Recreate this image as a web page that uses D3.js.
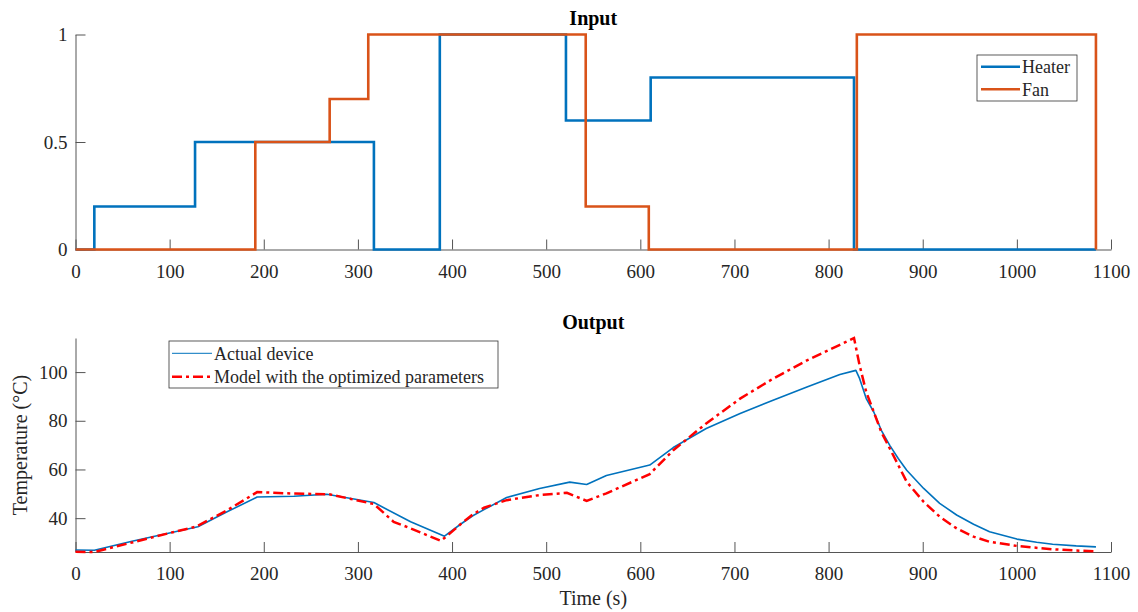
<!DOCTYPE html>
<html>
<head>
<meta charset="utf-8">
<script src="https://cdn.jsdelivr.net/npm/d3@7"></script>
<style>
  body { margin: 0; background: #fff; }
  svg { display: block; font-family: "Liberation Serif", "Times New Roman", serif; }
</style>
</head>
<body>
<div id="chart"></div>
<script>
// ---- data ----
// inputs: time (s) where each level starts, and the level
const heaterTime  = [0, 20, 127, 317, 387, 521, 611, 827, 1084]
const heaterLevel = [0, 0.2, 0.5, 0, 1, 0.6, 0.8, 0, 0]
const fanTime  = [0, 191, 270, 311, 542, 609, 830, 1084]
const fanLevel = [0, 0.5, 0.7, 1, 0.2, 0, 1, 0]

// output: measured temperature (°C)
const actualTime = [0, 20, 60, 101, 130, 161, 193, 232, 267, 317, 356, 392, 409, 422, 434, 458, 493, 525, 543,
  564, 610, 635, 670, 706, 741, 777, 812, 829, 833, 840, 848, 856, 865, 874, 883, 901, 918, 936, 954, 971,
  1000, 1021, 1038, 1063, 1084]
const actualTemp = [26.9, 26.8, 30.5, 34.0, 36.5, 42.6, 48.7, 49.0, 49.8, 46.4, 38.5, 32.6, 37.5, 41.0, 43.5, 48.5, 52.2, 54.8, 53.8,
  57.5, 61.8, 69.0, 76.8, 83.0, 88.4, 93.9, 99.0, 100.7, 97.3, 89.1, 83.6, 76.1, 69.9, 64.5, 59.7, 52.2, 46.1, 41.3, 37.5, 34.4,
  31.4, 30.1, 29.3, 28.6, 28.2]

// output: model with the optimized parameters (°C)
const modelTime = [0, 20, 101, 128, 161, 193, 232, 270, 317, 338, 356, 388, 394, 409, 422, 434, 458, 493, 522, 543,
  564, 610, 635, 670, 706, 741, 777, 812, 827, 833, 840, 848, 856, 865, 874, 883, 901, 918, 936, 954, 971,
  1000, 1038, 1063, 1084]
const modelTemp = [26.2, 26.1, 34.0, 36.5, 43.2, 50.7, 50.1, 49.8, 45.8, 38.5, 35.8, 30.7, 32.5, 37.5, 41.5, 44.3, 47.4, 49.5, 50.4, 47.1,
  50.2, 58.1, 67.9, 78.9, 89.1, 97.3, 104.8, 111.2, 114.0, 102.7, 91.8, 83.6, 75.4, 68.6, 61.8, 54.9, 46.7, 40.6, 35.8, 32.4, 30.3,
  28.6, 27.2, 26.7, 26.4]

const xTicks = d3.range(0, 1101, 100)
const inputTicks = [0, 0.5, 1]
const outputTicks = [40, 60, 80, 100]

// ---- layout ----
const W = 1138, H = 612
const LEFT = 75.5, RIGHT = 1111
const TOP1 = { top: 34.5, bottom: 249.5 }
const TOP2 = { top: 338, bottom: 552 }
const BLUE = "#0072BD", ORANGE = "#D95319", RED = "#ff0000"
const AXIS = "#555", TEXT = "#262626"

const svg = d3.select("#chart").append("svg")
    .attr("width", W)
    .attr("height", H)

const x = d3.scaleLinear().domain([0, 1100]).range([LEFT, RIGHT])
const yIn = d3.scaleLinear().domain([0, 1]).range([TOP1.bottom, TOP1.top])
const yOut = d3.scaleLinear()
    .domain(d3.extent(actualTemp.concat(modelTemp)))
    .range([TOP2.bottom, TOP2.top])

function drawAxes(y, yTickVals, bottom) {
    const gx = svg.append("g")
        .attr("transform", `translate(0, ${bottom})`)
        .call(d3.axisBottom(x).tickValues(xTicks).tickFormat(d3.format("d"))
            .tickSizeInner(-10).tickSizeOuter(0).tickPadding(15))
    const gy = svg.append("g")
        .attr("transform", `translate(${LEFT}, 0)`)
        .call(d3.axisLeft(y).tickValues(yTickVals).tickFormat(d => d)
            .tickSizeInner(-10).tickSizeOuter(0).tickPadding(8))
    for (const g of [gx, gy]) {
        g.selectAll("path.domain").attr("stroke", AXIS).attr("stroke-width", 1)
        g.selectAll(".tick line").attr("stroke", AXIS)
        g.selectAll(".tick text")
            .attr("fill", TEXT)
            .style("font-size", "19px")
            .style("font-family", "'Liberation Serif', serif")
    }
}

// ---- Input ----
drawAxes(yIn, inputTicks, TOP1.bottom)

const stepLine = d3.line()
    .x(d => x(d[0]))
    .y(d => yIn(d[1]))
    .curve(d3.curveStepAfter)

svg.append("path")
    .datum(d3.zip(heaterTime, heaterLevel))
    .attr("d", stepLine)
    .attr("fill", "none")
    .attr("stroke", BLUE)
    .attr("stroke-width", 2.6)

svg.append("path")
    .datum(d3.zip(fanTime, fanLevel))
    .attr("d", stepLine)
    .attr("fill", "none")
    .attr("stroke", ORANGE)
    .attr("stroke-width", 2.6)

svg.append("text")
    .attr("x", (LEFT + RIGHT) / 2)
    .attr("y", 25)
    .attr("text-anchor", "middle")
    .style("font-size", "20px")
    .style("font-weight", "bold")
    .text("Input")

// legend (input)
const leg1 = svg.append("g").attr("transform", "translate(977, 55)")
leg1.append("rect")
    .attr("width", 100).attr("height", 46)
    .attr("fill", "#fff").attr("stroke", "#333").attr("stroke-width", 0.8)
const inputSeries = [["Heater", BLUE], ["Fan", ORANGE]]
inputSeries.forEach(([name, col], i) => {
    const yy = 11.7 + i * 22.6
    leg1.append("line")
        .attr("x1", 4).attr("x2", 43).attr("y1", yy).attr("y2", yy)
        .attr("stroke", col).attr("stroke-width", 2.6)
    leg1.append("text")
        .attr("x", 45).attr("y", yy).attr("dy", "0.35em")
        .style("font-size", "18px").attr("fill", TEXT)
        .text(name)
})

// ---- Output ----
drawAxes(yOut, outputTicks, TOP2.bottom)

const tempLine = d3.line()
    .x(d => x(d[0]))
    .y(d => yOut(d[1]))

svg.append("path")
    .datum(d3.zip(actualTime, actualTemp))
    .attr("d", tempLine)
    .attr("fill", "none")
    .attr("stroke", BLUE)
    .attr("stroke-width", 1.6)
    .attr("stroke-linejoin", "round")

svg.append("path")
    .datum(d3.zip(modelTime, modelTemp))
    .attr("d", tempLine)
    .attr("fill", "none")
    .attr("stroke", RED)
    .attr("stroke-width", 2.5)
    .attr("stroke-dasharray", "10,4,3,4")

svg.append("text")
    .attr("x", (LEFT + RIGHT) / 2)
    .attr("y", 329)
    .attr("text-anchor", "middle")
    .style("font-size", "20px")
    .style("font-weight", "bold")
    .text("Output")

svg.append("text")
    .attr("x", (LEFT + RIGHT) / 2)
    .attr("y", 605)
    .attr("text-anchor", "middle")
    .attr("fill", TEXT)
    .style("font-size", "20px")
    .text("Time (s)")

svg.append("text")
    .attr("transform", `translate(27, ${(TOP2.top + TOP2.bottom) / 2}) rotate(-90)`)
    .attr("text-anchor", "middle")
    .attr("fill", TEXT)
    .style("font-size", "20px")
    .text("Temperature (°C)")

// legend (output)
const leg2 = svg.append("g").attr("transform", "translate(169, 341)")
leg2.append("rect")
    .attr("width", 329).attr("height", 47)
    .attr("fill", "#fff").attr("stroke", "#333").attr("stroke-width", 0.8)
const outputSeries = [["Actual device", BLUE, 1, null], ["Model with the optimized parameters", RED, 2.5, "10,4,3,4"]]
outputSeries.forEach(([name, col, w, dash], i) => {
    const yy = 12.3 + i * 23.4
    leg2.append("line")
        .attr("x1", 3).attr("x2", 43).attr("y1", yy).attr("y2", yy)
        .attr("stroke", col).attr("stroke-width", w)
        .attr("stroke-dasharray", dash)
    leg2.append("text")
        .attr("x", 45).attr("y", yy).attr("dy", "0.35em")
        .style("font-size", "18px").attr("fill", TEXT)
        .text(name)
})
</script>
</body>
</html>
